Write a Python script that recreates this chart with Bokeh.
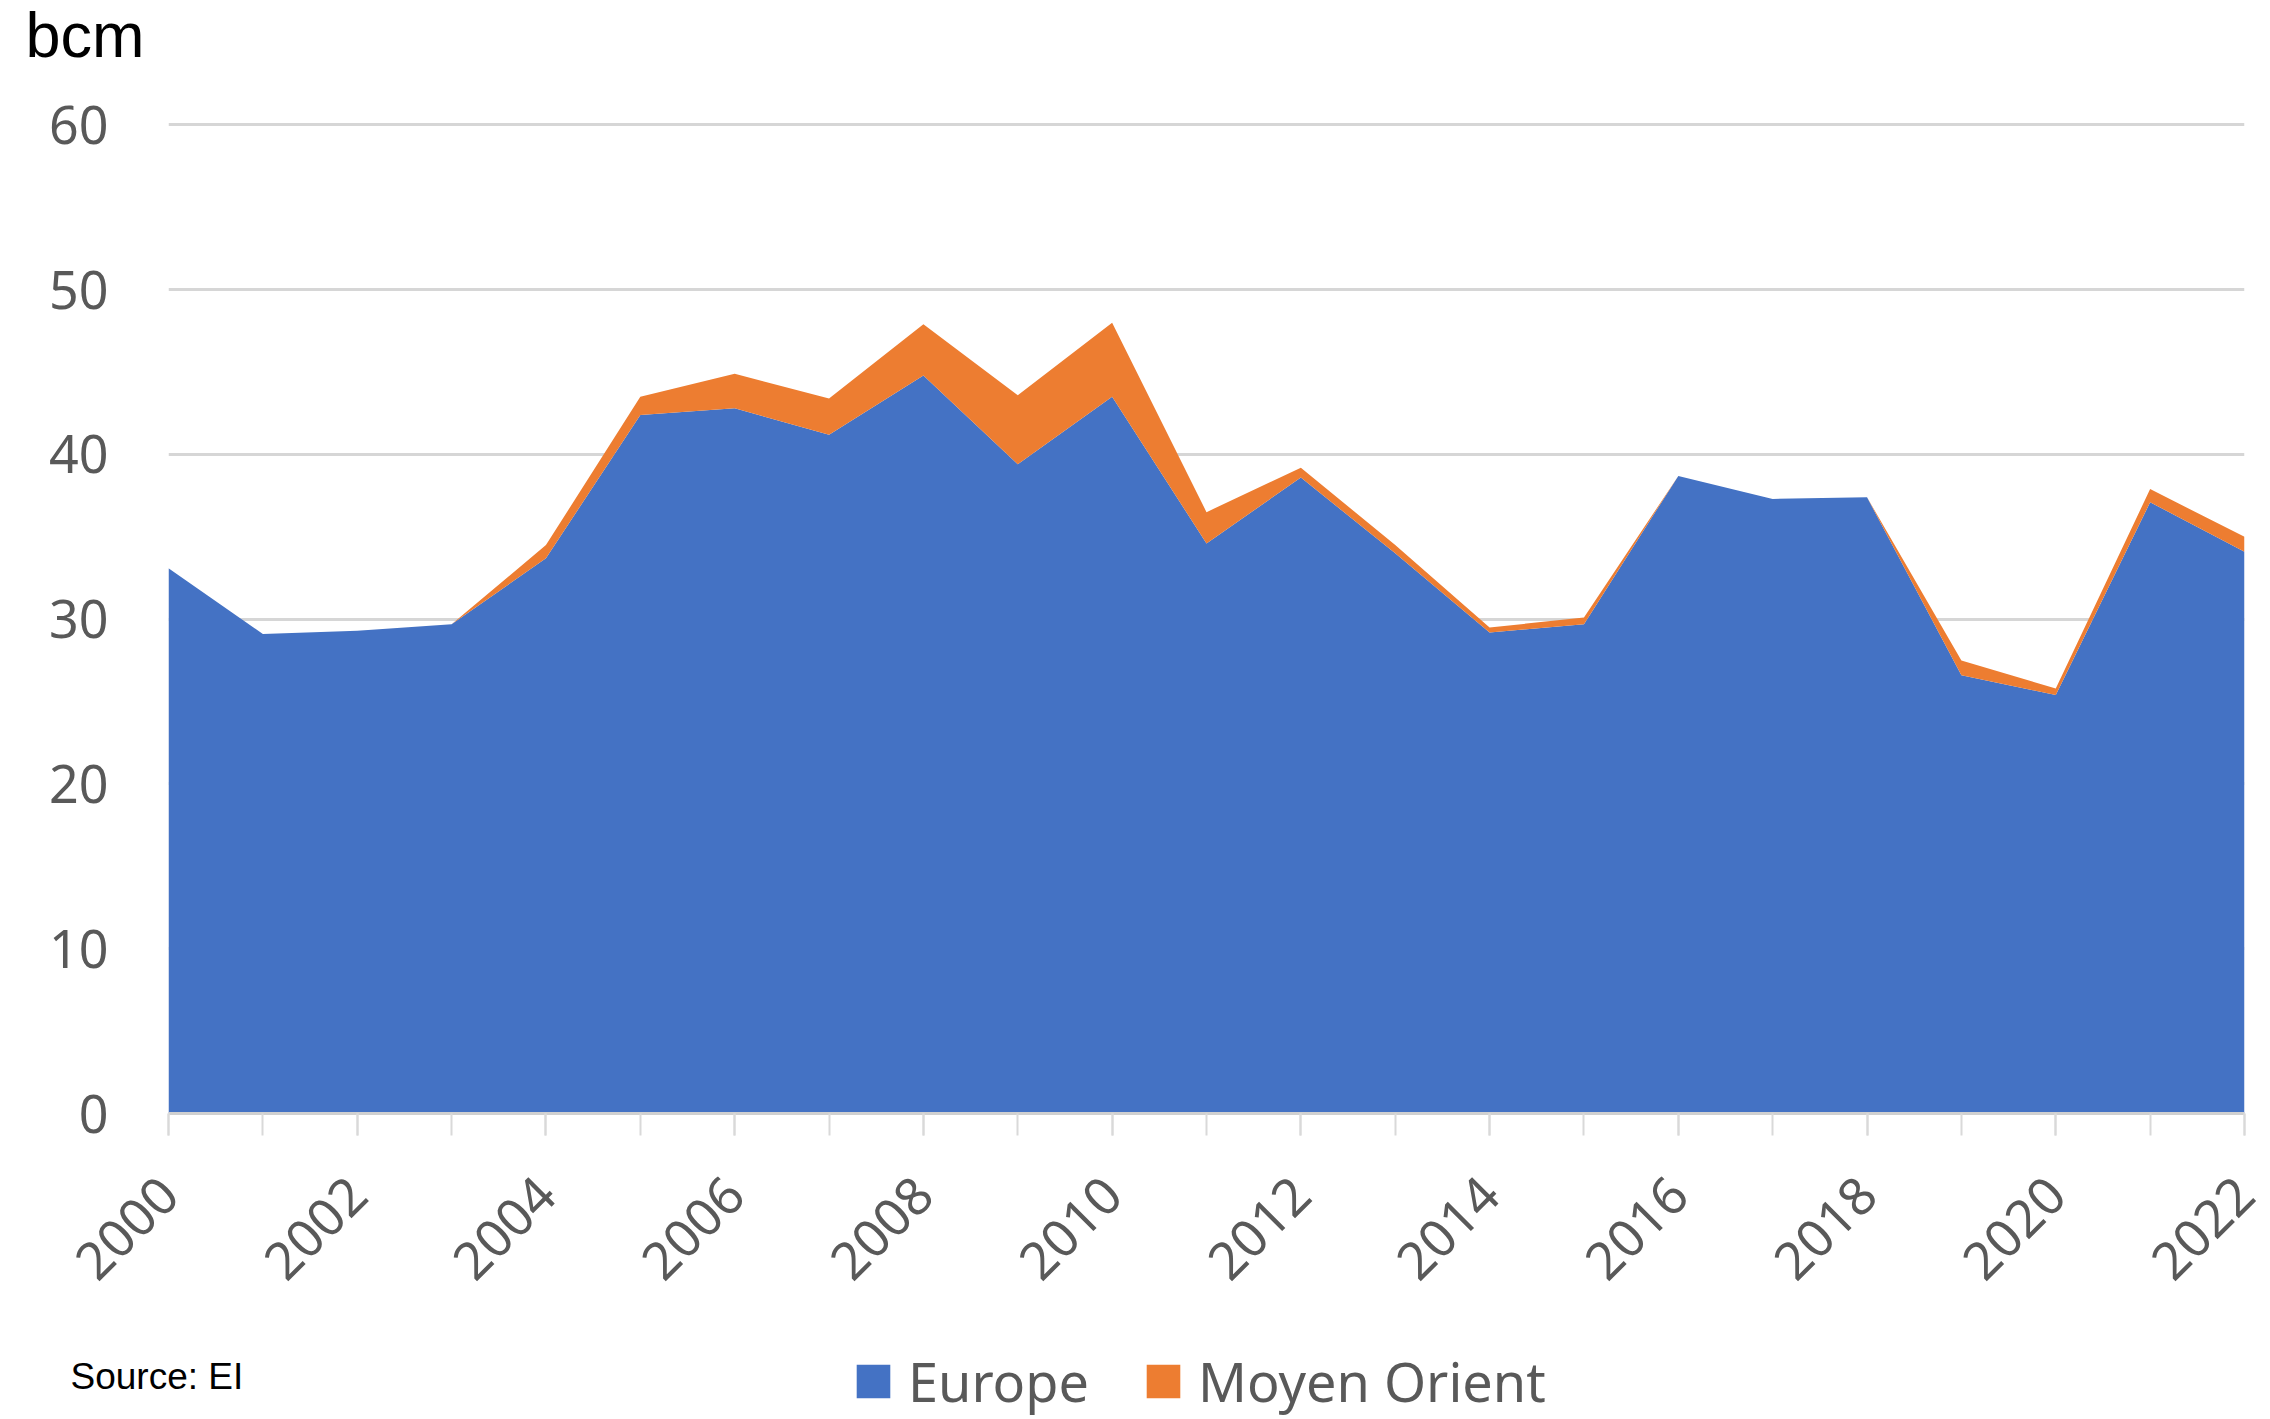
from math import pi
from bokeh.plotting import figure
from bokeh.layouts import column
from bokeh.models import (ColumnDataSource, Range1d, FixedTicker, Legend, LegendItem,
                          Label)
from bokeh.embed import file_html
from bokeh.resources import INLINE

years = list(range(2000, 2023))
europe = [33.1, 29.1, 29.3, 29.7, 33.7, 42.4, 42.8, 41.2, 44.8, 39.4, 43.5, 34.6,
          38.6, 34.0, 29.2, 29.7, 38.7, 37.3, 37.4, 26.6, 25.4, 37.1, 34.1]
moyen_orient = [0.0, 0.0, 0.0, 0.0, 0.8, 1.1, 2.1, 2.2, 3.1, 4.2, 4.5, 1.9,
                0.6, 0.5, 0.3, 0.4, 0.0, 0.0, 0.0, 0.9, 0.4, 0.8, 0.9]
series_names = ["Europe", "Moyen Orient"]
series_colors = ["#4472C4", "#ED7D31"]
x_tick_labels = list(range(2000, 2023, 2))
y_ticks = [0, 10, 20, 30, 40, 50, 60]

W = 2270
H_TOP, H_MAIN, H_BOT = 80, 1265, 74

src = ColumnDataSource(dict(year=years, europe=europe, me=moyen_orient))

# ---- top strip: unit label ----
top = figure(width=W, height=H_TOP, output_backend="svg", toolbar_location=None,
             x_range=Range1d(0, W), y_range=Range1d(H_TOP, 0),
             x_axis_type=None, y_axis_type=None, min_border=0, frame_align=False)
top.outline_line_color = None
top.grid.visible = False
top.add_layout(Label(x=25, y=34, text="bcm", text_font="Liberation Sans",
                     text_font_size="63px", text_color="black",
                     text_baseline="alphabetic"))

# ---- main chart ----
p = figure(width=W, height=H_MAIN, output_backend="svg", toolbar_location=None,
           x_range=Range1d(2000, 2022), y_range=Range1d(0, 60.15),
           min_border_left=168, min_border_right=26, min_border_top=42,
           min_border_bottom=H_MAIN - (1113 - H_TOP), frame_align=False)
p.outline_line_color = None

rs = p.varea_stack(["europe", "me"], x="year", color=series_colors, source=src)

p.xgrid.grid_line_color = None
p.ygrid.ticker = FixedTicker(ticks=y_ticks)
p.ygrid.grid_line_color = "#d6d6d6"
p.ygrid.grid_line_width = 3

p.yaxis.ticker = FixedTicker(ticks=y_ticks)
p.yaxis.axis_line_color = None
p.yaxis.major_tick_line_color = None
p.yaxis.minor_tick_line_color = None
p.yaxis.major_tick_out = 0
p.yaxis.major_tick_in = 0
p.yaxis.major_label_standoff = 60
p.yaxis.major_label_text_font = "Noto Sans"
p.yaxis.major_label_text_font_size = "52px"
p.yaxis.major_label_text_color = "#595959"

p.xaxis.ticker = FixedTicker(ticks=x_tick_labels, minor_ticks=years)
p.xaxis.axis_line_color = "#d0d0d0"
p.xaxis.axis_line_width = 3
p.xaxis.major_tick_line_color = "#d9d9d9"
p.xaxis.major_tick_line_width = 2
p.xaxis.minor_tick_line_color = "#d9d9d9"
p.xaxis.minor_tick_line_width = 2
p.xaxis.major_tick_out = 22
p.xaxis.major_tick_in = 0
p.xaxis.minor_tick_out = 22
p.xaxis.minor_tick_in = 0
p.xaxis.major_label_orientation = pi / 4
p.xaxis.major_label_standoff = 50
p.xaxis.major_label_text_font = "Noto Sans"
p.xaxis.major_label_text_font_size = "52px"
p.xaxis.major_label_text_color = "#595959"

# ---- bottom strip: source note and legend ----
bot = figure(width=W, height=H_BOT, output_backend="svg", toolbar_location=None,
             x_range=Range1d(0, W), y_range=Range1d(H_BOT, 0),
             x_axis_type=None, y_axis_type=None, min_border=0, frame_align=False)
bot.outline_line_color = None
bot.grid.visible = False
# legend proxies: same styling as the chart areas, kept outside the visible range
proxy = ColumnDataSource(dict(x=[-20, -10], y1=[0, 0], y2=[1, 1]))
lr = [bot.varea(x="x", y1="y1", y2="y2", color=c, source=proxy) for c in series_colors]
legend = Legend(items=[LegendItem(label=n, renderers=[r]) for n, r in zip(series_names, lr)],
                orientation="horizontal", location=(852, 1),
                glyph_width=42, glyph_height=42, label_standoff=14, spacing=53,
                padding=0, margin=0, border_line_color=None,
                background_fill_alpha=0,
                label_text_font="Noto Sans", label_text_font_size="54px",
                label_text_color="#595959")
bot.add_layout(legend, "center")
bot.add_layout(Label(x=70, y=31, text="Source: EI",
                     text_font="Liberation Sans", text_font_size="37px",
                     text_color="black", text_baseline="alphabetic"))

layout = column(top, p, bot, spacing=0)
open("out.html", "w").write(file_html(layout, INLINE))
